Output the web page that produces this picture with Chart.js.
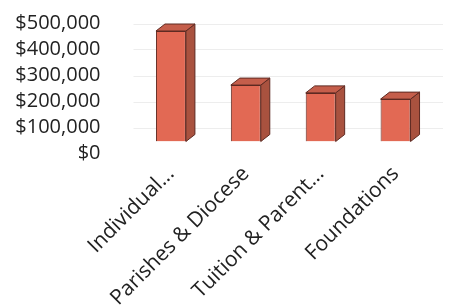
<!DOCTYPE html>
<html lang="en">
  <head>
    <meta charset="UTF-8" />
    <title>Revenue by Source</title>
    <style>
      body {
        margin: 0;
        background: #fff;
        overflow: hidden;
      }
      #wrap {
        width: 450px;
        height: 308px;
      }
    </style>
  </head>
  <body>
    <div id="wrap"><canvas id="revenueChart"></canvas></div>

    <script src="https://cdn.jsdelivr.net/npm/chart.js"></script>
    <script>
      const categories = [
        "Individual...",
        "Parishes & Diocese",
        "Tuition & Parent...",
        "Foundations",
      ];
      const amounts = [425000, 217000, 187000, 163000];
      const yTicks = [0, 100000, 200000, 300000, 400000, 500000];

      const labelShift = 12; // labels sit lower than the bar floor in the 3d view
      const depthX = 9;
      const depthY = 7;

      // draws the side and top faces of each column
      const columns3d = {
        id: "columns3d",
        beforeDatasetsDraw(chart) {
          const { ctx, chartArea, scales } = chart;
          ctx.save();
          ctx.strokeStyle = "#ededed";
          ctx.lineWidth = 1;
          yTicks.slice(1).forEach((v) => {
            const y = Math.round(scales.y.getPixelForValue(v) + labelShift) + 0.5;
            ctx.beginPath();
            ctx.moveTo(chartArea.left, y);
            ctx.lineTo(chartArea.right + 10, y);
            ctx.stroke();
          });
          ctx.restore();
        },
        afterDatasetsDraw(chart) {
          const { ctx } = chart;
          const meta = chart.getDatasetMeta(0);
          ctx.save();
          ctx.lineWidth = 1;
          ctx.strokeStyle = "#5e2a22";
          meta.data.forEach((bar) => {
            const p = bar.getProps(["x", "y", "base", "width"], true);
            const left = p.x - p.width / 2;
            const right = p.x + p.width / 2;
            const top = p.y;
            const bottom = p.base;

            ctx.fillStyle = "#a9523f";
            ctx.beginPath();
            ctx.moveTo(right, top);
            ctx.lineTo(right + depthX, top - depthY);
            ctx.lineTo(right + depthX, bottom - depthY);
            ctx.lineTo(right, bottom);
            ctx.closePath();
            ctx.fill();
            ctx.stroke();

            ctx.fillStyle = "#c55e4b";
            ctx.beginPath();
            ctx.moveTo(left, top);
            ctx.lineTo(left + depthX, top - depthY);
            ctx.lineTo(right + depthX, top - depthY);
            ctx.lineTo(right, top);
            ctx.closePath();
            ctx.fill();
            ctx.stroke();
          });
          ctx.restore();
        },
      };

      new Chart(document.getElementById("revenueChart"), {
        type: "bar",
        data: {
          labels: categories,
          datasets: [
            {
              data: amounts,
              backgroundColor: "#e26954",
              borderColor: "#5e2a22",
              borderWidth: 1,
              barPercentage: 0.4,
              categoryPercentage: 1,
            },
          ],
        },
        options: {
          responsive: true,
          maintainAspectRatio: false,
          animation: false,
          layout: {
            padding: { left: 0, right: 17, top: 11.5, bottom: 0 },
          },
          plugins: {
            legend: { display: false },
            tooltip: { enabled: false },
          },
          scales: {
            x: {
              grid: { display: false },
              border: { display: false },
              ticks: {
                maxRotation: 45,
                minRotation: 45,
                padding: 12,
                color: "#222",
                font: { family: "Open Sans", size: 21 },
              },
              afterFit(scale) {
                scale.height = 166.5;
              },
            },
            y: {
              min: 0,
              max: 500000,
              grid: { display: false },
              border: { display: false },
              afterBuildTicks(scale) {
                scale.ticks = yTicks.map((v) => ({ value: v }));
              },
              ticks: {
                autoSkip: false,
                padding: 25,
                labelOffset: labelShift,
                color: "#222",
                font: { family: "Open Sans", size: 20 },
                callback: (v) => "$" + v.toLocaleString("en-US"),
              },
              afterFit(scale) {
                scale.width = 133.5;
                // tick padding is only meant to push labels left
                scale.paddingTop = 0;
                scale.paddingBottom = 0;
              },
            },
          },
        },
        plugins: [columns3d],
      });
    </script>
  </body>
</html>
